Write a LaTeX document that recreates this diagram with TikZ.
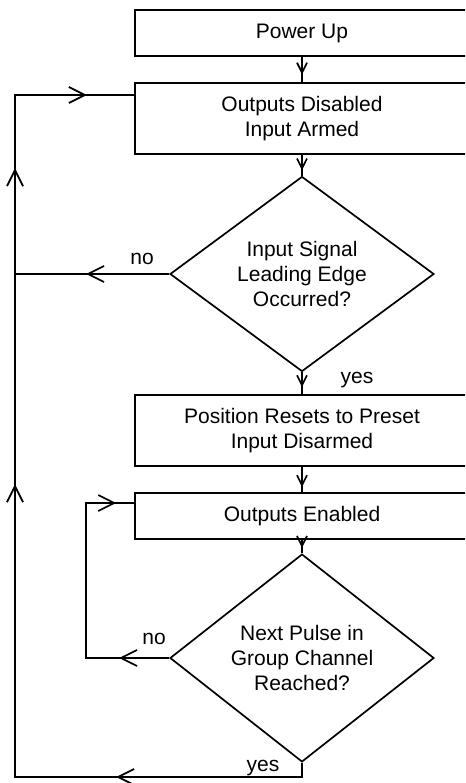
\documentclass[tikz,border=0pt]{standalone}
\usepackage{fontspec}
\setmainfont{Liberation Sans}
\usetikzlibrary{arrows.meta}
\usetikzlibrary{shapes.geometric,decorations.markings}

\tikzset{
  bigtip/.tip={Straight Barb[length=16pt,width=16pt]},
  smalltip/.tip={Straight Barb[length=10pt,width=10pt]},
  tipat/.style 2 args={postaction={decorate},
    decoration={markings,mark=at position #1 with {\arrow{#2}}}},
}

\begin{document}
\begin{tikzpicture}[x=1pt,y=-1pt,line width=1.7pt,
    font=\fontsize{21}{25}\selectfont]
    \clip (0,0) rectangle (465,783);
			\begin{scope}[every node/.style={rectangle,draw,align=center,inner sep=0pt,minimum width=334pt}]
    \node[minimum height=46pt] (power) at (302,33) {Power Up};
    \node[minimum height=71pt] (disabled) at (302,118.5) {Outputs Disabled\\Input Armed};
    \node[minimum height=71pt] (reset) at (302,430.5) {Position Resets to Preset\\Input Disarmed};
    \node[minimum height=46pt] (enabled) at (302,516) {Outputs Enabled};
			\end{scope}
			\begin{scope}[every node/.style={diamond,draw,align=center,inner sep=0pt,minimum width=264pt,minimum height=192pt}]
    \node (edge) at (302,274) {Input Signal\\Leading Edge\\Occurred?};
    \node (pulse) at (302,658) {Next Pulse in\\Group Channel\\Reached?};
			\end{scope}
    \coordinate (bl) at (15,777);
    \coordinate (tl) at (15,95);
    % straight down the chain
    \draw[tipat={0.7}{smalltip}] (power) -- (disabled);
    \draw[tipat={0.75}{smalltip}] (disabled) -- (edge);
    \draw[tipat={0.68}{smalltip}] (edge) -- (reset);
    \draw[tipat={0.8}{smalltip}] (reset) -- (enabled);
    \draw[tipat={0.6}{smalltip}] (enabled) -- (pulse);
    % back to the start
    \draw[tipat={83pt}{bigtip}] (edge.west) -- (edge.west -| bl);
    \draw[decoration={markings,
        mark=at position 200pt with {\arrow{bigtip}},
        mark=at position 594pt with {\arrow{bigtip}},
        mark=at position 910pt with {\arrow{bigtip}},
        mark=at position 1055pt with {\arrow{bigtip}}},
      postaction={decorate}]
      (pulse.south) |- (bl) -- (tl) -- ([yshift=23.5pt]disabled.west);
    % wait for the next pulse
    \draw[decoration={markings,
        mark=at position 50pt with {\arrow{bigtip}},
        mark=at position 268pt with {\arrow{bigtip}}},
      postaction={decorate}]
      (pulse.west) -- ++(-83,0) |- ([yshift=13pt]enabled.west);
    \node (no1) at ([shift={(-27pt,15pt)}]edge.west) {no};
    \node (yes1) at ([shift={(55pt,-8pt)}]edge.south) {yes};
    \node (no2) at ([shift={(-15pt,19pt)}]pulse.west) {no};
    \node (yes2) at ([shift={(-39pt,-5pt)}]pulse.south) {yes};
		\end{tikzpicture}
\end{document}
